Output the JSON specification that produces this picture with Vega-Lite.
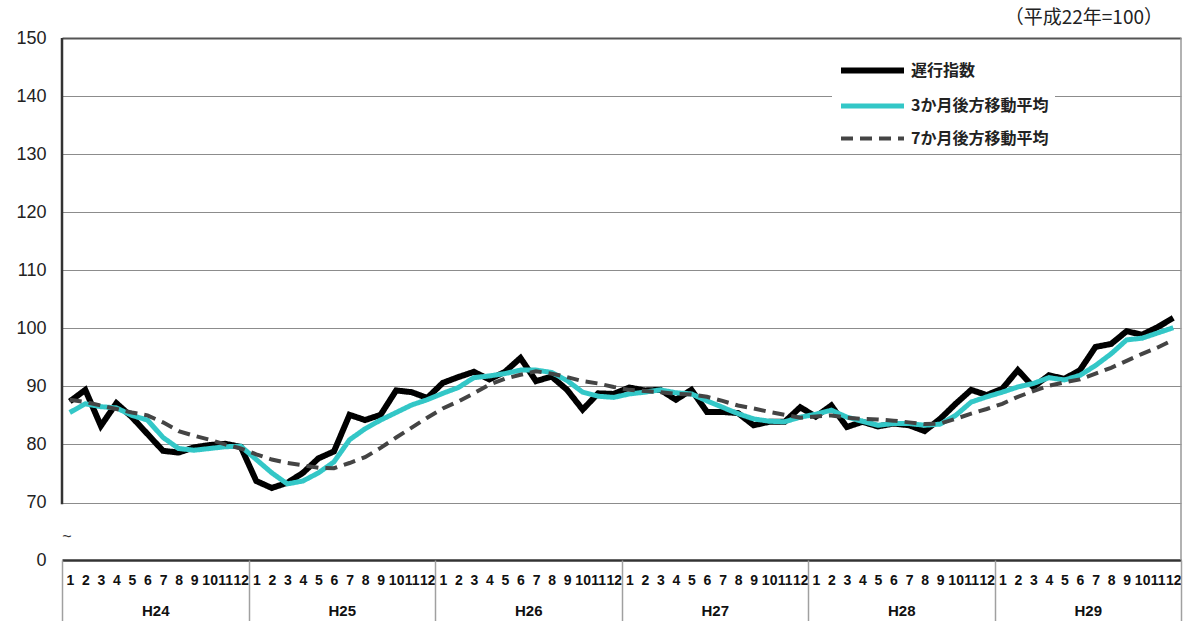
{
  "$schema": "https://vega.github.io/schema/vega-lite/v6.json",
  "width": 1119,
  "height": 522,
  "autosize": {"type": "none"},
  "padding": {"left": 62, "top": 38, "right": 7, "bottom": 61},
  "background": "white",
  "title": {"text": "（平成22年=100）", "anchor": "end", "frame": "group", "dx": -18, "offset": 1, "fontSize": 19, "fontWeight": "normal", "font": "Noto Sans CJK JP", "color": "#222"},
  "config": {"view": {"stroke": null}},
  "data": {"values": [
    {"t":1,"a":87.4,"b":85.5,"c":87.7},
    {"t":2,"a":89.4,"b":87.0,"c":87.3},
    {"t":3,"a":83.2,"b":86.5,"c":86.7},
    {"t":4,"a":87.1,"b":86.3,"c":86.1},
    {"t":5,"a":84.7,"b":85.0,"c":85.5},
    {"t":6,"a":81.8,"b":84.2,"c":85.0},
    {"t":7,"a":78.9,"b":81.2,"c":83.8},
    {"t":8,"a":78.6,"b":79.3,"c":82.3},
    {"t":9,"a":79.5,"b":79.0,"c":81.5},
    {"t":10,"a":79.9,"b":79.3,"c":80.8},
    {"t":11,"a":80.1,"b":79.6,"c":80.0},
    {"t":12,"a":79.6,"b":79.7,"c":79.3},
    {"t":13,"a":73.7,"b":77.4,"c":78.3},
    {"t":14,"a":72.5,"b":75.1,"c":77.4},
    {"t":15,"a":73.4,"b":73.2,"c":76.8},
    {"t":16,"a":75.1,"b":73.7,"c":76.4},
    {"t":17,"a":77.6,"b":75.1,"c":76.0},
    {"t":18,"a":78.8,"b":77.0,"c":75.9},
    {"t":19,"a":85.1,"b":80.8,"c":76.8},
    {"t":20,"a":84.2,"b":82.7,"c":77.8},
    {"t":21,"a":85.1,"b":84.2,"c":79.4},
    {"t":22,"a":89.3,"b":85.5,"c":81.2},
    {"t":23,"a":89.0,"b":86.8,"c":82.9},
    {"t":24,"a":88.0,"b":87.7,"c":84.6},
    {"t":25,"a":90.6,"b":88.8,"c":86.2},
    {"t":26,"a":91.6,"b":89.8,"c":87.4},
    {"t":27,"a":92.5,"b":91.5,"c":88.8},
    {"t":28,"a":91.2,"b":91.8,"c":90.3},
    {"t":29,"a":92.5,"b":92.2,"c":91.3},
    {"t":30,"a":94.9,"b":92.8,"c":92.0},
    {"t":31,"a":90.9,"b":92.8,"c":92.6},
    {"t":32,"a":91.7,"b":92.4,"c":92.2},
    {"t":33,"a":89.4,"b":91.0,"c":91.6},
    {"t":34,"a":86.0,"b":89.0,"c":90.9},
    {"t":35,"a":88.8,"b":88.3,"c":90.5},
    {"t":36,"a":88.7,"b":88.1,"c":89.9},
    {"t":37,"a":89.8,"b":88.7,"c":89.4},
    {"t":38,"a":89.3,"b":89.0,"c":89.2},
    {"t":39,"a":89.4,"b":89.4,"c":89.0},
    {"t":40,"a":87.7,"b":88.9,"c":88.7},
    {"t":41,"a":89.4,"b":88.7,"c":88.6},
    {"t":42,"a":85.6,"b":87.5,"c":88.2},
    {"t":43,"a":85.6,"b":86.4,"c":87.5},
    {"t":44,"a":85.4,"b":85.3,"c":86.7},
    {"t":45,"a":83.3,"b":84.4,"c":86.2},
    {"t":46,"a":83.9,"b":84.0,"c":85.6},
    {"t":47,"a":83.9,"b":83.9,"c":85.1},
    {"t":48,"a":86.4,"b":84.7,"c":84.6},
    {"t":49,"a":84.8,"b":85.2,"c":84.8},
    {"t":50,"a":86.7,"b":85.9,"c":85.0},
    {"t":51,"a":83.0,"b":84.7,"c":84.6},
    {"t":52,"a":83.9,"b":84.0,"c":84.4},
    {"t":53,"a":83.1,"b":83.3,"c":84.3},
    {"t":54,"a":83.6,"b":83.6,"c":84.1},
    {"t":55,"a":83.3,"b":83.6,"c":83.8},
    {"t":56,"a":82.3,"b":83.3,"c":83.5},
    {"t":57,"a":84.4,"b":83.5,"c":83.6},
    {"t":58,"a":87.0,"b":85.0,"c":84.4},
    {"t":59,"a":89.4,"b":87.3,"c":85.3},
    {"t":60,"a":88.5,"b":88.2,"c":86.1},
    {"t":61,"a":89.6,"b":89.0,"c":87.0},
    {"t":62,"a":92.8,"b":89.9,"c":88.2},
    {"t":63,"a":89.9,"b":90.5,"c":89.2},
    {"t":64,"a":91.9,"b":91.5,"c":90.1},
    {"t":65,"a":91.3,"b":91.1,"c":90.7},
    {"t":66,"a":92.8,"b":91.9,"c":91.2},
    {"t":67,"a":96.8,"b":93.6,"c":92.2},
    {"t":68,"a":97.3,"b":95.6,"c":93.2},
    {"t":69,"a":99.5,"b":98.0,"c":94.4},
    {"t":70,"a":98.9,"b":98.3,"c":95.6},
    {"t":71,"a":100.2,"b":99.2,"c":96.7},
    {"t":72,"a":101.8,"b":100.1,"c":98.0}
  ]},
  "resolve": {"axis": {"x": "independent"}},
  "layer": [
    {
      "transform": [{"fold": ["a", "b", "c"], "as": ["s", "v"]}],
      "mark": {"type": "line"},
      "encoding": {
        "x": {"field": "t", "type": "quantitative",
          "scale": {"domain": [0.5, 72.5], "nice": false, "zero": false},
          "axis": {"orient": "bottom", "title": null,
            "values": [1,2,3,4,5,6,7,8,9,10,11,12,13,14,15,16,17,18,19,20,21,22,23,24,25,26,27,28,29,30,31,32,33,34,35,36,37,38,39,40,41,42,43,44,45,46,47,48,49,50,51,52,53,54,55,56,57,58,59,60,61,62,63,64,65,66,67,68,69,70,71,72],
            "labelExpr": "((datum.value - 1) % 12) + 1",
            "ticks": false, "grid": false, "domain": true, "domainColor": "#333", "domainWidth": 2.5,
            "labelPadding": 13, "labelFontSize": 14, "labelFontWeight": "bold", "labelFont": "Liberation Sans", "labelColor": "#111",
            "labelOverlap": false, "labelFlush": false, "labelBound": false}},
        "y": {"field": "v", "type": "quantitative",
          "scale": {"domain": [0, 70, 150], "range": [522, 464.5, 0], "nice": false, "zero": false},
          "axis": {"title": null, "values": [0, 70, 80, 90, 100, 110, 120, 130, 140, 150],
            "ticks": false, "domain": false, "grid": true,
            "gridColor": {"condition": {"test": "datum.value === 150", "value": "#555555"}, "value": "#8c8c8c"},
            "gridWidth": {"condition": {"test": "datum.value === 150", "value": 2}, "value": 1},
            "gridOpacity": {"condition": {"test": "datum.value === 0", "value": 0}, "value": 1},
            "labelPadding": 16, "labelFontSize": 18, "labelFont": "Liberation Sans", "labelColor": "#222"}},
        "color": {"field": "s", "type": "nominal",
          "scale": {"domain": ["a", "b", "c"], "range": ["#000000", "#33c7c7", "#444444"]},
          "legend": {"title": null, "orient": "none", "legendX": 770, "legendY": 13, "fillColor": "white", "padding": 6,
            "symbolType": "M-1,0H5", "symbolSize": 441, "labelFontSize": 16, "labelFont": "Noto Sans CJK JP", "labelFontWeight": "bold",
            "labelColor": "#222", "rowPadding": 10, "labelOffset": 46,
            "labelExpr": "datum.label == 'a' ? '遅行指数' : datum.label == 'b' ? '3か月後方移動平均' : '7か月後方移動平均'"}},
        "strokeWidth": {"field": "s", "type": "nominal",
          "scale": {"domain": ["a", "b", "c"], "range": [6, 4, 2]}},
        "strokeDash": {"field": "s", "type": "nominal",
          "scale": {"domain": ["a", "b", "c"], "range": [[1, 0], [1, 0], [12, 7]]}}
      }
    },
    {
      "data": {"values": [{}]},
      "mark": {"type": "rule", "color": "#333", "strokeWidth": 2.5},
      "encoding": {
        "x": {"datum": 0.5, "type": "quantitative",
          "axis": {"orient": "bottom", "title": null,
            "values": [0.5, 12.5, 24.5, 36.5, 48.5, 60.5, 72.5],
            "labels": false, "domain": false, "ticks": true, "tickSize": 61, "tickColor": "#a0a0a0", "tickWidth": 1.5, "grid": false}},
        "y": {"datum": 150, "type": "quantitative"},
        "y2": {"datum": 68}
      }
    },
    {
      "data": {"values": [{}]},
      "mark": {"type": "rule", "color": "#999", "strokeWidth": 1.5},
      "encoding": {
        "x": {"datum": 72.5, "type": "quantitative",
          "axis": {"orient": "bottom", "title": null,
            "values": [6.5, 18.5, 30.5, 42.5, 54.5, 66.5],
            "labelExpr": "'H' + (24 + floor((datum.value - 1) / 12))",
            "ticks": false, "domain": false, "grid": false, "labelPadding": 43,
            "labelFontSize": 15, "labelFontWeight": "bold", "labelFont": "Liberation Sans", "labelColor": "#111"}},
        "y": {"datum": 0, "type": "quantitative"},
        "y2": {"datum": 150}
      }
    },
    {
      "data": {"values": [{}]},
      "mark": {"type": "text", "text": "~", "fontSize": 16, "dx": 5, "align": "center", "color": "#333"},
      "encoding": {
        "x": {"datum": 0.5, "type": "quantitative", "axis": null},
        "y": {"datum": 28, "type": "quantitative"}
      }
    }
  ]
}
